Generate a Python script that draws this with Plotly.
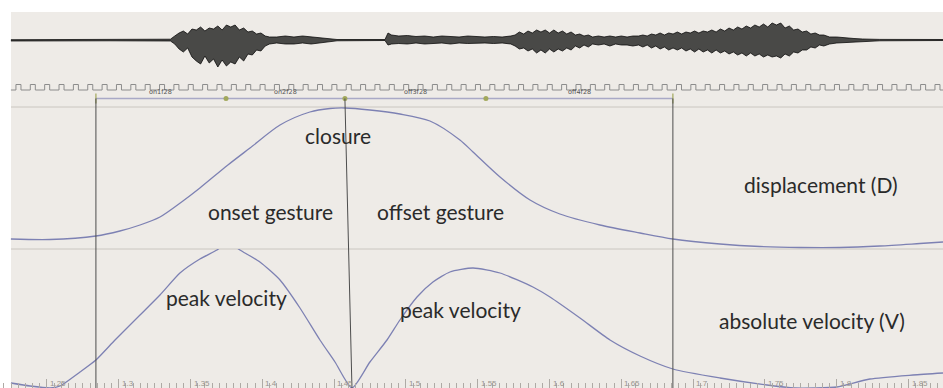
import plotly.graph_objects as go

# ---------------- data ----------------
# audio waveform envelope (arbitrary amplitude units), region by region
w0_t = [1.2249, 1.2591, 1.2939]
w0_hi = [0.3, 0.5, 0.5]
w0_lo = [-1.0, -0.6, -0.8]

w1_t = [1.336, 1.339, 1.342, 1.345, 1.348, 1.351, 1.354, 1.357, 1.360, 1.363, 1.366, 1.369,
        1.372, 1.375, 1.378, 1.381, 1.384, 1.387, 1.390, 1.393, 1.396, 1.399, 1.402, 1.405]
w1_hi = [0.8, 4, 7, 9, 6, 11, 10, 13, 9, 12, 11, 14, 10, 15, 13, 15, 10, 12, 8, 9, 6, 7, 4, 3]
w1_lo = [-1, -4, -9, -12, -8, -17, -21, -24, -16, -23, -19, -27,
         -20, -26, -22, -24, -17, -21, -14, -15, -10, -11, -6, -4]

w2_t = [1.410, 1.416, 1.422, 1.428, 1.434, 1.440, 1.446, 1.452, 1.4854]
w2_hi = [3, 4, 3, 4, 3, 2.5, 1.5, 0.5, 0.5]
w2_lo = [-3, -4, -4, -3, -4, -3, -2, -0.8, -0.5]

w3_t = [1.4875, 1.490, 1.495, 1.501, 1.507, 1.513, 1.519, 1.525, 1.531, 1.537, 1.543, 1.549,
        1.555, 1.561, 1.567, 1.573]
w3_hi = [7, 5, 4, 4.5, 3.5, 4, 3, 4, 3.5, 3, 4, 3.5, 3, 3.5, 3, 4]
w3_lo = [-5, -4, -3.5, -4, -3, -4, -3.5, -3, -4, -3, -3.5, -3, -3, -3.5, -3, -4]

w4_t = [1.576, 1.579, 1.582, 1.585, 1.588, 1.591, 1.594, 1.597, 1.600, 1.603, 1.606, 1.609,
        1.612, 1.615, 1.618, 1.621, 1.624, 1.627, 1.630]
w4_hi = [5, 8, 6, 9, 7, 10, 8, 10, 7, 10, 7, 9, 6, 8, 5, 6, 4, 5, 3]
w4_lo = [-6, -9, -8, -11, -9, -13, -10, -13, -9, -12, -9, -11, -8, -10, -6, -8, -5, -7, -4]

w5_t = [1.634, 1.638, 1.642, 1.646, 1.650, 1.654, 1.658, 1.662]
w5_hi = [4, 3, 4, 3, 4, 3, 4, 4]
w5_lo = [-5, -4, -6, -4, -5, -5, -6, -5]

w6_t = [1.665, 1.668, 1.671, 1.674, 1.677, 1.680, 1.683, 1.686, 1.689, 1.692, 1.695, 1.698,
        1.701, 1.704, 1.707, 1.710, 1.713, 1.716, 1.719, 1.722, 1.725, 1.728, 1.731, 1.734,
        1.737, 1.740, 1.743, 1.746, 1.749, 1.752, 1.755, 1.758, 1.761, 1.764, 1.767, 1.770,
        1.773, 1.776, 1.779, 1.782, 1.785, 1.788, 1.791]
w6_hi = [5, 4, 6, 5, 7, 5, 7, 6, 8, 6, 8, 7, 9, 7, 9, 8, 10, 8, 11, 9, 12, 10, 13, 11,
         14, 12, 15, 13, 16, 13, 17, 15, 17, 12, 14, 10, 11, 8, 9, 6, 7, 5, 5]
w6_lo = [-7, -5, -8, -6, -9, -7, -10, -8, -10, -8, -11, -9, -12, -9, -12, -10, -13, -10,
         -13, -11, -14, -12, -15, -13, -16, -13, -16, -14, -17, -15, -17, -16, -18, -14,
         -16, -12, -13, -10, -10, -7, -8, -5, -6]

w7_t = [1.795, 1.800, 1.806, 1.812, 1.818, 1.830, 1.874]
w7_hi = [3, 3, 2, 1.5, 1, 0.6, 0.5]
w7_lo = [-4, -3, -2.5, -2, -1.2, -0.8, -0.5]

# sync pulse train
pulse_first = 1.2284
pulse_period = 0.01
pulse_width = 0.0035
pulse_count = 65

# gesture landmarks (s) and interval names
landmarks = [1.2841, 1.3747, 1.4575, 1.5557, 1.6859]
interval_names = ["on1f28", "on2f28", "off3f28", "off4f28"]

# displacement D (mm)
disp_t = [1.2249, 1.2521, 1.2841, 1.3008, 1.3148, 1.3287, 1.3447, 1.3565, 1.3760, 1.3914,
          1.4123, 1.4331, 1.4471, 1.4575, 1.4749, 1.4958, 1.5167, 1.5376, 1.5467, 1.5655,
          1.5864, 1.6072, 1.6351, 1.6630, 1.6859, 1.7187, 1.7465, 1.7744, 1.8022, 1.8301,
          1.8579, 1.8740]
disp_v = [1.0, 0.95, 1.3, 1.8, 2.4, 3.2, 4.8, 6.1, 8.4, 10.1,
          12.4, 13.7, 14.05, 14.1, 13.9, 13.5, 12.8, 10.9, 9.7, 7.2,
          4.9, 3.5, 2.4, 1.6, 1.0, 0.5, 0.25, 0.15, 0.15, 0.3,
          0.55, 0.7]

# absolute velocity V (cm/s)
vel_t = [1.2249, 1.2382, 1.2521, 1.2591, 1.2730, 1.2841, 1.2974, 1.3148, 1.3287, 1.3426,
         1.3565, 1.3684, 1.3760, 1.3844, 1.3983, 1.4123, 1.4262, 1.4401, 1.4506, 1.4624,
         1.4749, 1.4868, 1.4958, 1.5077, 1.5188, 1.5306, 1.5467, 1.5655, 1.5884, 1.6003,
         1.6212, 1.6421, 1.6630, 1.6859, 1.7187, 1.7514, 1.7709, 1.7848, 1.8001, 1.8231,
         1.8531, 1.8740]
vel_v = [0.5, 0.2, 0.0, 0.2, 1.6, 2.8, 4.8, 7.3, 9.3, 11.5,
         12.9, 13.8, 14.6, 13.8, 12.6, 10.8, 8.0, 4.8, 2.6, 0.0,
         2.6, 4.8, 6.8, 9.1, 10.6, 11.6, 12.0, 11.5, 10.1, 9.1,
         7.0, 4.8, 3.2, 1.9, 1.0, 0.3, 0.0, 0.0, 0.1, 0.9,
         1.3, 1.5]

# time axis labels
tick_vals = [1.25, 1.3, 1.35, 1.4, 1.45, 1.5, 1.55, 1.6, 1.65, 1.7, 1.75, 1.8, 1.85]
tick_text = ["1.25", "1.3", "1.35", "1.4", "1.45", "1.5", "1.55", "1.6", "1.65", "1.7", "1.75", "1.8", "1.85"]

# ---------------- assemble waveform ----------------
wave_t, wave_hi, wave_lo = [], [], []
for tt, hh, ll in [(w0_t, w0_hi, w0_lo), (w1_t, w1_hi, w1_lo), (w2_t, w2_hi, w2_lo),
                   (w3_t, w3_hi, w3_lo), (w4_t, w4_hi, w4_lo), (w5_t, w5_hi, w5_lo),
                   (w6_t, w6_hi, w6_lo), (w7_t, w7_hi, w7_lo)]:
    n = min(len(tt), len(hh), len(ll))
    wave_t += tt[:n]
    wave_hi += hh[:n]
    wave_lo += ll[:n]

# ---------------- layout helpers ----------------
W, H = 943, 388
def py(p):
    return 1 - p / H
def px(p):
    return p / W

curve_col = "#7d81b3"
olive = "#a2a85c"
vline_col = "#4d4d4d"
sep_col = "#cac6c0"
panel_col = "#eeebe7"

fig = go.Figure()

# waveform (band between envelopes)
fig.add_trace(go.Scatter(x=wave_t, y=wave_lo, mode="lines", yaxis="y",
                         line=dict(color="rgba(5,5,5,0.95)", width=0.8),
                         hoverinfo="skip", showlegend=False))
fig.add_trace(go.Scatter(x=wave_t, y=wave_hi, mode="lines", yaxis="y", fill="tonexty",
                         fillcolor="rgba(10,10,10,0.72)",
                         line=dict(color="rgba(5,5,5,0.95)", width=0.8),
                         hoverinfo="skip", showlegend=False))

# pulse train
pulse_hi, pulse_lo = 22.5, 17.0
p_x = [wave_t[0]]
p_y = [pulse_lo]
for k in range(pulse_count):
    t0 = pulse_first + k * pulse_period
    p_x += [t0, t0 + pulse_width]
    p_y += [pulse_hi, pulse_lo]
p_x.append(wave_t[-1])
p_y.append(pulse_lo)
fig.add_trace(go.Scatter(x=p_x, y=p_y, mode="lines", line_shape="hv", yaxis="y2",
                         line=dict(color="#8c8c8c", width=1),
                         hoverinfo="skip", showlegend=False))

# interval bar + landmark markers
bar_level = 8.5
fig.add_trace(go.Scatter(x=[landmarks[0], landmarks[-1]], y=[bar_level, bar_level],
                         mode="lines", yaxis="y2", line=dict(color="#a9a9c6", width=1.6),
                         hoverinfo="skip", showlegend=False))
fig.add_trace(go.Scatter(x=landmarks[1:-1], y=[bar_level] * (len(landmarks) - 2),
                         mode="markers", yaxis="y2",
                         marker=dict(symbol="circle", size=5, color=olive),
                         hoverinfo="skip", showlegend=False))
fig.add_trace(go.Scatter(x=[landmarks[0], landmarks[-1]], y=[bar_level, bar_level],
                         mode="markers", yaxis="y2",
                         marker=dict(symbol="line-ns", size=7, line=dict(color=olive, width=1.2)),
                         hoverinfo="skip", showlegend=False))

# displacement and velocity
fig.add_trace(go.Scatter(x=disp_t, y=disp_v, mode="lines", yaxis="y3",
                         line=dict(color=curve_col, width=1.3, shape="spline", smoothing=0.8),
                         hoverinfo="skip", showlegend=False))
fig.add_trace(go.Scatter(x=vel_t, y=vel_v, mode="lines", yaxis="y4",
                         line=dict(color=curve_col, width=1.3, shape="spline", smoothing=0.6),
                         hoverinfo="skip", showlegend=False))

# velocity zero at closure (from data)
seg = [(t, v) for t, v in zip(vel_t, vel_v) if landmarks[1] < t < landmarks[3]]
closure_zero_t = min(seg, key=lambda tv: tv[1])[0]

shapes = [
    dict(type="rect", xref="paper", yref="paper", x0=px(11), x1=1, y0=0, y1=py(12),
         fillcolor=panel_col, line=dict(width=0), layer="below"),
    dict(type="line", xref="paper", yref="paper", x0=px(11), x1=1, y0=py(107), y1=py(107),
         line=dict(color=sep_col, width=1), layer="below"),
    dict(type="line", xref="paper", yref="paper", x0=px(11), x1=1, y0=py(249), y1=py(249),
         line=dict(color=sep_col, width=1), layer="below"),
    dict(type="line", xref="x", yref="paper", x0=landmarks[0], x1=landmarks[0], y0=py(98.5), y1=0,
         line=dict(color=vline_col, width=1)),
    dict(type="line", xref="x", yref="paper", x0=landmarks[-1], x1=landmarks[-1], y0=py(98.5), y1=0,
         line=dict(color=vline_col, width=1)),
    dict(type="line", xref="x", yref="paper", x0=landmarks[2], x1=closure_zero_t, y0=py(98.5), y1=0,
         line=dict(color=vline_col, width=1)),
]

annotations = []
for i, name in enumerate(interval_names):
    annotations.append(dict(x=(landmarks[i] + landmarks[i + 1]) / 2, xref="x", y=py(92), yref="paper",
                            text=name, showarrow=False, xanchor="center", yanchor="middle",
                            font=dict(family="DejaVu Sans", size=6.5, color="#555555")))
for v, t in zip(tick_vals, tick_text):
    annotations.append(dict(x=v, xref="x", y=py(383), yref="paper", text=t, showarrow=False,
                            xanchor="left", yanchor="middle", xshift=1,
                            font=dict(family="Liberation Sans, Arial", size=8, color="#97938e")))

big_font = dict(family="Lato, Open Sans, sans-serif", size=21, color="#2a2a2a")
labels = [
    ("closure", 338, 135),
    ("onset gesture", 270, 212),
    ("offset gesture", 440, 212),
    ("displacement (D)", 821, 184),
    ("peak velocity", 226, 297),
    ("peak velocity", 460, 309),
    ("absolute velocity (V)", 812, 320),
]
for txt, lx, ly in labels:
    annotations.append(dict(x=px(lx), xref="paper", y=py(ly), yref="paper", text=txt,
                            showarrow=False, xanchor="center", yanchor="middle", font=big_font))

hidden = dict(showgrid=False, zeroline=False, showline=False, showticklabels=False, ticks="")

fig.update_layout(
    width=W, height=H, margin=dict(l=0, r=0, t=0, b=0),
    paper_bgcolor="white", plot_bgcolor="rgba(0,0,0,0)",
    showlegend=False,
    xaxis=dict(range=[1.2173, 1.8740], anchor="y4", showgrid=False, zeroline=False, showline=False,
               ticks="inside", ticklen=9, tickwidth=1, tickcolor="#aeaaa5",
               tickmode="linear", tick0=1.25, dtick=0.05, showticklabels=False,
               minor=dict(ticks="inside", ticklen=5, tickwidth=1, tickcolor="#aeaaa5",
                          tick0=1.25, dtick=0.005, showgrid=False)),
    yaxis=dict(domain=[py(80), py(12)], range=[-40, 28], anchor="x", **hidden),
    yaxis2=dict(domain=[py(107), py(80)], range=[0, 27], anchor="x", **hidden),
    yaxis3=dict(domain=[py(249), py(107)], range=[0, 14.2], anchor="x", **hidden),
    yaxis4=dict(domain=[0, py(249)], range=[0, 13.9], anchor="x", **hidden),
    shapes=shapes, annotations=annotations,
)

fig.write_html("out.html")
